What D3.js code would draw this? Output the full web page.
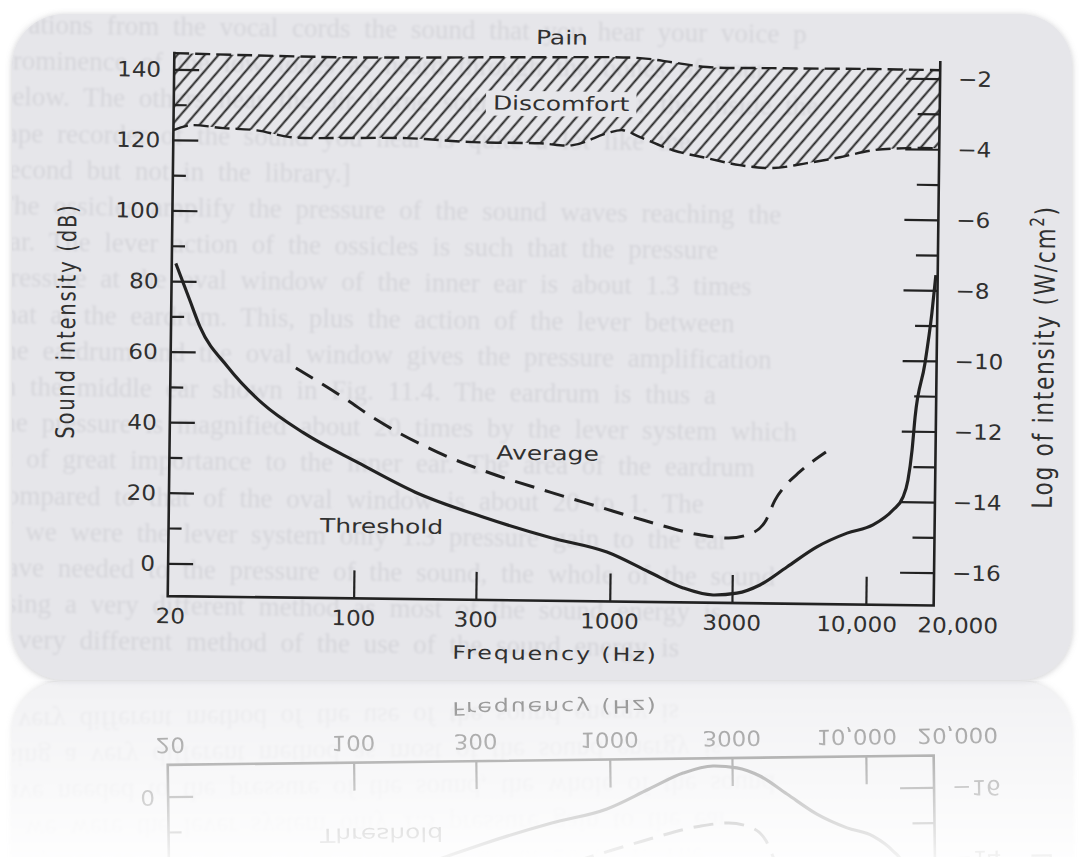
<!DOCTYPE html>
<html>
<head>
<meta charset="utf-8">
<script src="https://cdn.jsdelivr.net/npm/d3@7"></script>
<style>
  html, body { margin: 0; padding: 0; background: #fff; }
  svg { display: block; }
</style>
</head>
<body>
<script>
// sound intensity vs frequency: threshold, average, discomfort / pain band

const thresholdHz = [19.5, 22.2, 24.4, 31.4, 43, 62.7, 103, 172, 317, 590, 970, 1420, 1930, 2530, 3130, 3850, 4900, 6400, 8380, 10570, 12630, 13800, 14400, 14900, 15250, 16570, 17540, 18100];
const thresholdDb = [85, 74.6, 67.1, 55.9, 45.7, 37.4, 29.1, 21, 14.2, 8.5, 4.7, -0.8, -5.2, -7.1, -6.5, -4.1, 1.1, 6.9, 10.9, 13.3, 17.6, 21.3, 26.1, 34.7, 44, 59.3, 73.6, 84.3];

const averageHz = [58, 90, 121, 208, 336, 578, 907, 1336, 2235, 2875, 3570, 4040, 4370, 4770, 5420, 6870];
const averageDb = [55.8, 47.4, 41.3, 32.5, 26.7, 21.5, 17.4, 13.9, 9.9, 9.1, 10.6, 14.3, 20, 24, 28, 33.8];

const painHz = [18.8, 87, 503, 1236, 1664, 2260, 4090, 10050, 18400];
const painDb = [144.6, 144.0, 144.7, 144.8, 143.7, 142.5, 142.4, 142.5, 142.4];

const discomfortHz = [18.8, 21.9, 29.4, 39.9, 53.6, 84, 153, 278, 508, 683, 927, 1070, 1248, 1680, 2280, 3070, 4130, 5610, 7550, 10150, 13780, 18400];
const discomfortDb = [122.8, 124.2, 123.5, 123.0, 121.2, 121.1, 121.3, 120.4, 120.3, 119.9, 123.4, 124.3, 122.4, 118.8, 116.7, 114.8, 114.1, 115.6, 117.4, 119.5, 120.2, 120.3];

const dbTicks = [0, 10, 20, 30, 40, 50, 60, 70, 80, 90, 100, 110, 120, 130, 140];
const dbLabels = [0, 20, 40, 60, 80, 100, 120, 140];
const logTicks = [-16, -15, -14, -13, -12, -11, -10, -9, -8, -7, -6, -5, -4, -3, -2];
const logLabels = [-16, -14, -12, -10, -8, -6, -4, -2];
const freqTicks = [100, 300, 1000, 3000, 10000];
const freqLabelHz = [20, 100, 300, 1000, 3000, 10000, 20000];
const freqLabels = ["20", "100", "300", "1000", "3000", "10,000", "20,000"];
const frameHz = [18.8, 18400];
const frameDb = [-9.3, 145];

// faint show-through text of the scanned page
const pageLines = [
  "ıt  ations from the vocal cords the sound that you hear your voice p",
  "prominence  of  the  low  tones  as  heard  through  the  bones  of  your",
  "below.  The  others  hear  the  air  borne  sound  alone,  hear  the  inside  the",
  "  tape  recorder  of  the  sound  you  hear  is  quite  a  lot  like  the",
  "second but not in the library.]",
  "  The ossicles amplify the pressure of the sound waves reaching the",
  "ear.  The lever action of the ossicles is such that the pressure",
  "pressure at the oval window of the inner ear is about 1.3 times",
  "that at the eardrum.  This, plus the action of the lever between",
  "the eardrum and the oval window gives the pressure amplification",
  "in the middle ear shown in Fig. 11.4.  The eardrum is thus a",
  "the pressure is magnified about 20 times by the lever system which",
  "is of great importance to the inner ear.  The area of the eardrum",
  "compared to that of the oval window is about 20 to 1.  The",
  "If we were the lever system only 1.3 pressure gain to the ear",
  "have needed to the pressure of the sound, the whole of the sound",
  "using a very different method as most of the sound energy is",
  "a very different method of the use of the sound energy is"
];

const width = 1082, height = 857;
const ink = "#222", textInk = "#303030", cardFill = "#e6e6ea";

const x = d3.scaleLog().domain(frameHz).range([171, 937]);
const y = d3.scaleLinear().domain([0, 140]).range([568, 74]);
const yLog = d3.scaleLinear().domain([-16, -2]).range([y(0), y(140)]);
const x0 = x.range()[0], x1 = x.range()[1];
const yBottom = y(frameDb[0]), yTop = y(frameDb[1]);

const svg = d3.select("body").append("svg")
  .attr("width", width)
  .attr("height", height);

const defs = svg.append("defs");

defs.append("pattern")
  .attr("id", "hatch")
  .attr("patternUnits", "userSpaceOnUse")
  .attr("width", 10.4).attr("height", 10)
  .attr("patternTransform", "rotate(40)")
  .append("line")
  .attr("x1", 5.2).attr("y1", -1).attr("x2", 5.2).attr("y2", 11)
  .attr("stroke", ink).attr("stroke-width", 1.9);

defs.append("clipPath").attr("id", "cardClip")
  .append("rect")
  .attr("x", 12).attr("y", 14).attr("width", 1060).attr("height", 666)
  .attr("rx", 52);

const shadow = defs.append("filter").attr("id", "cardShadow")
  .attr("x", -0.05).attr("y", -0.05).attr("width", 1.1).attr("height", 1.1);
shadow.append("feDropShadow")
  .attr("dx", 0).attr("dy", 1).attr("stdDeviation", 3)
  .attr("flood-color", "#8a8a90").attr("flood-opacity", 0.45);

defs.append("filter").attr("id", "soft")
  .append("feGaussianBlur").attr("stdDeviation", 0.9);

const grad = defs.append("linearGradient").attr("id", "fade")
  .attr("gradientUnits", "userSpaceOnUse")
  .attr("x1", 0).attr("y1", 681).attr("x2", 0).attr("y2", height);
grad.append("stop").attr("offset", 0).attr("stop-color", "#fff").attr("stop-opacity", 0.55);
grad.append("stop").attr("offset", 1).attr("stop-color", "#fff").attr("stop-opacity", 0.06);

defs.append("mask").attr("id", "reflectMask")
  .attr("maskUnits", "userSpaceOnUse")
  .attr("x", 0).attr("y", 0).attr("width", width).attr("height", height)
  .append("rect")
  .attr("x", 0).attr("y", 681).attr("width", width).attr("height", height - 681)
  .attr("fill", "url(#fade)");

svg.append("rect").attr("width", width).attr("height", height).attr("fill", "#fff");

const scene = svg.append("g").attr("id", "scene");

scene.append("rect")
  .attr("x", 12).attr("y", 14).attr("width", 1060).attr("height", 666)
  .attr("rx", 52)
  .attr("fill", cardFill)
  .attr("filter", "url(#cardShadow)");

// scan is slightly tilted
const tilt = "rotate(0.7,555,330)";

scene.append("g")
  .attr("clip-path", "url(#cardClip)")
  .append("g")
  .attr("transform", tilt)
  .attr("filter", "url(#soft)")
  .selectAll("text")
  .data(pageLines)
  .join("text")
  .attr("x", -4)
  .attr("y", (d, i) => 40 + i * 36.2)
  .attr("font-family", "Liberation Serif, serif")
  .attr("font-size", 27)
  .attr("word-spacing", 7)
  .attr("fill", "#d5d5da")
  .text(d => d);

const chart = scene.append("g").attr("transform", tilt);

function place(sel, px, py, sx, rot) {
  return sel.attr("transform", `translate(${px},${py}) scale(${sx},1)` + (rot ? ` rotate(${rot})` : ""));
}

// discomfort band
const edge = d3.line().curve(d3.curveCatmullRom.alpha(0.5));
const painPts = painHz.map((f, i) => [x(f), y(painDb[i])]);
const discPts = discomfortHz.map((f, i) => [x(f), y(discomfortDb[i])]);
const back = edge(discPts.slice().reverse());

chart.append("path")
  .attr("d", edge(painPts) + "L" + back.slice(1) + "Z")
  .attr("fill", "url(#hatch)");

chart.selectAll(".edge")
  .data([painPts, discPts])
  .join("path")
  .attr("class", "edge")
  .attr("d", edge)
  .attr("fill", "none")
  .attr("stroke", ink)
  .attr("stroke-width", 2.4)
  .attr("stroke-dasharray", "15,6");

// axes
function styleAxis(g) {
  g.select(".domain").remove();
  g.selectAll("line").attr("stroke", ink).attr("stroke-width", 2.2);
}

chart.append("g")
  .attr("transform", `translate(${x0},0)`)
  .call(d3.axisRight(y).tickValues(dbTicks.filter(d => d % 20 !== 0)).tickSize(13).tickFormat(""))
  .call(styleAxis);
chart.append("g")
  .attr("transform", `translate(${x0},0)`)
  .call(d3.axisRight(y).tickValues(dbLabels).tickSize(25).tickFormat(""))
  .call(styleAxis);

chart.append("g")
  .attr("transform", `translate(${x1},0)`)
  .call(d3.axisLeft(yLog).tickValues(logTicks.filter(d => d % 2 !== 0)).tickSize(22).tickFormat(""))
  .call(styleAxis);
chart.append("g")
  .attr("transform", `translate(${x1},0)`)
  .call(d3.axisLeft(yLog).tickValues(logLabels).tickSize(34).tickFormat(""))
  .call(styleAxis);

chart.append("g")
  .attr("transform", `translate(0,${yBottom})`)
  .call(d3.axisTop(x).tickValues(freqTicks).tickSize(28).tickFormat(""))
  .call(styleAxis);

chart.append("path")
  .attr("d", d3.line()([[x0, yTop], [x0, yBottom], [x1, yBottom], [x1, yTop]]))
  .attr("fill", "none")
  .attr("stroke", ink)
  .attr("stroke-width", 2.6);

// tick labels
const tickFont = { family: "DejaVu Sans, sans-serif", size: 21 };

chart.selectAll(".ylab")
  .data(dbLabels)
  .join("text")
  .attr("class", "ylab")
  .each(function (d) { place(d3.select(this), x0 - 13, y(d), 1.1); })
  .attr("dy", "0.36em")
  .attr("text-anchor", "end")
  .attr("font-family", tickFont.family)
  .attr("font-size", tickFont.size)
  .attr("fill", textInk)
  .text(d => d);

chart.selectAll(".rlab")
  .data(logLabels)
  .join("text")
  .attr("class", "rlab")
  .each(function (d) { place(d3.select(this), x1 + 18, yLog(d), 1.1); })
  .attr("dy", "0.36em")
  .attr("font-family", tickFont.family)
  .attr("font-size", tickFont.size)
  .attr("fill", textInk)
  .text(d => "\u2212" + Math.abs(d));

const labelShift = { "20": -4, "10,000": -9, "20,000": 15 };
chart.selectAll(".xlab")
  .data(freqLabels)
  .join("text")
  .attr("class", "xlab")
  .each(function (d, i) { place(d3.select(this), x(freqLabelHz[i]) + (labelShift[d] || 0), yBottom + 27, 1.1); })
  .attr("text-anchor", "middle")
  .attr("font-family", tickFont.family)
  .attr("font-size", tickFont.size)
  .attr("fill", textInk)
  .text(d => d);

// axis titles
place(chart.append("text"), (x0 + x1) / 2 + 5, 660, 1.28)
  .attr("text-anchor", "middle")
  .attr("font-family", "DejaVu Sans, sans-serif")
  .attr("font-size", 18.5)
  .attr("letter-spacing", 1.5)
  .attr("fill", textInk)
  .text("Frequency (Hz)");

place(chart.append("text"), 75, 327, 1.3, -90)
  .attr("text-anchor", "middle")
  .attr("font-family", "DejaVu Sans, sans-serif")
  .attr("font-size", 19.5)
  .attr("letter-spacing", 1.8)
  .attr("fill", textInk)
  .text("Sound intensity (dB)");

const rTitle = place(chart.append("text"), 1054, 351, 1.3, -90)
  .attr("text-anchor", "middle")
  .attr("font-family", "DejaVu Sans, sans-serif")
  .attr("font-size", 21.5)
  .attr("letter-spacing", 1.8)
  .attr("fill", textInk);
rTitle.append("tspan").text("Log of intensity (W/cm");
rTitle.append("tspan").attr("baseline-shift", "super").attr("font-size", "70%").text("2");
rTitle.append("tspan").text(")");

// curves
const curve = d3.line().curve(d3.curveMonotoneX);

chart.append("path")
  .datum(thresholdHz.map((f, i) => [x(f), y(thresholdDb[i])]))
  .attr("d", curve)
  .attr("fill", "none")
  .attr("stroke", ink)
  .attr("stroke-width", 3.2)
  .attr("stroke-linejoin", "round");

chart.append("path")
  .datum(averageHz.map((f, i) => [x(f), y(averageDb[i])]))
  .attr("d", curve)
  .attr("fill", "none")
  .attr("stroke", ink)
  .attr("stroke-width", 3)
  .attr("stroke-dasharray", "20,11");

// region names
const notes = [
  { text: "Pain", hz: 612, db: 148.4, clear: false },
  { text: "Discomfort", hz: 612, db: 129.7, clear: true },
  { text: "Average", hz: 563, db: 30.6, clear: false },
  { text: "Threshold", hz: 127.6, db: 9.3, clear: false }
];

notes.forEach(n => {
  const g = chart.append("g");
  const t = place(g.append("text"), x(n.hz), y(n.db), 1.28)
    .attr("text-anchor", "middle")
    .attr("font-family", "DejaVu Sans, sans-serif")
    .attr("font-size", 19.5)
    .attr("fill", textInk)
    .text(n.text);
  if (n.clear) {
    const w = t.node().getComputedTextLength() * 1.28;
    g.insert("rect", "text")
      .attr("x", x(n.hz) - w / 2 - 7)
      .attr("y", y(n.db) - 19)
      .attr("width", w + 14)
      .attr("height", 25)
      .attr("fill", cardFill);
  }
});

// mirrored reflection under the card
svg.append("g")
  .attr("mask", "url(#reflectMask)")
  .append("use")
  .attr("href", "#scene")
  .attr("transform", "translate(0,1361) scale(1,-1)");
</script>
</body>
</html>
